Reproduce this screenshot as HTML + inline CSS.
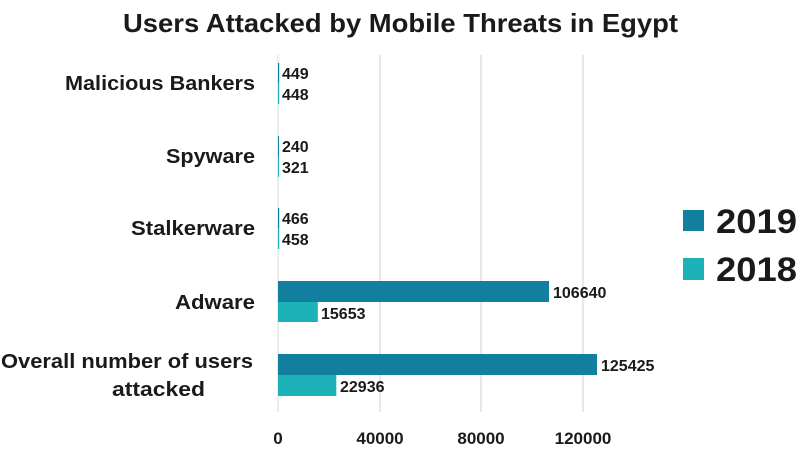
<!DOCTYPE html>
<html><head><meta charset="utf-8"><style>
html,body{margin:0;padding:0;background:#fff;width:800px;height:450px;overflow:hidden}
text{font-family:"Liberation Sans","DejaVu Sans",sans-serif;font-weight:bold;fill:#1a1a1a}
</style></head><body>
<svg width="800" height="450" viewBox="0 0 800 450" xmlns="http://www.w3.org/2000/svg">
<text x="123" y="32" font-size="26" textLength="555" lengthAdjust="spacingAndGlyphs">Users Attacked by Mobile Threats in Egypt</text>
<g stroke="#d0d0d0" stroke-width="1">
<line x1="380" y1="55" x2="380" y2="412"/>
<line x1="481" y1="55" x2="481" y2="412"/>
<line x1="583" y1="55" x2="583" y2="412"/>
</g>
<line x1="278" y1="55" x2="278" y2="412" stroke="#d8d8d8"/>
<g fill="#137f9f">
<rect x="278" y="63" width="1.2" height="20"/>
<rect x="278" y="136" width="1" height="20"/>
<rect x="278" y="208" width="1.2" height="20"/>
<rect x="278" y="281" width="271" height="21"/>
<rect x="278" y="354" width="319" height="21"/>
</g>
<g fill="#1cb2b8">
<rect x="278" y="83" width="1.2" height="21"/>
<rect x="278" y="156" width="1" height="21"/>
<rect x="278" y="228" width="1.2" height="21"/>
<rect x="278" y="302" width="39.8" height="20"/>
<rect x="278" y="375" width="58.3" height="21"/>
</g>
<g font-size="16">
<text x="282" y="79">449</text><text x="282" y="100">448</text>
<text x="282" y="152">240</text><text x="282" y="173">321</text>
<text x="282" y="224">466</text><text x="282" y="245">458</text>
<text x="553" y="298">106640</text><text x="321" y="319">15653</text>
<text x="601" y="371">125425</text><text x="340" y="392">22936</text>
</g>
<g font-size="20">
<text x="65" y="90" textLength="190" lengthAdjust="spacingAndGlyphs">Malicious Bankers</text>
<text x="166" y="163" textLength="89" lengthAdjust="spacingAndGlyphs">Spyware</text>
<text x="131" y="235" textLength="124" lengthAdjust="spacingAndGlyphs">Stalkerware</text>
<text x="175" y="309" textLength="80" lengthAdjust="spacingAndGlyphs">Adware</text>
<text x="1" y="368" textLength="252" lengthAdjust="spacingAndGlyphs">Overall number of users</text>
<text x="112" y="396" textLength="93" lengthAdjust="spacingAndGlyphs">attacked</text>
</g>
<g font-size="17" text-anchor="middle">
<text x="278" y="444">0</text>
<text x="380" y="444">40000</text>
<text x="481" y="444">80000</text>
<text x="583" y="444">120000</text>
</g>
<rect x="683" y="210" width="21" height="21" fill="#137f9f"/>
<rect x="683" y="258" width="21" height="22" fill="#1cb2b8"/>
<text x="716" y="233" font-size="34" textLength="81" lengthAdjust="spacingAndGlyphs">2019</text>
<text x="716" y="281" font-size="34" textLength="81" lengthAdjust="spacingAndGlyphs">2018</text>
</svg>
</body></html>
